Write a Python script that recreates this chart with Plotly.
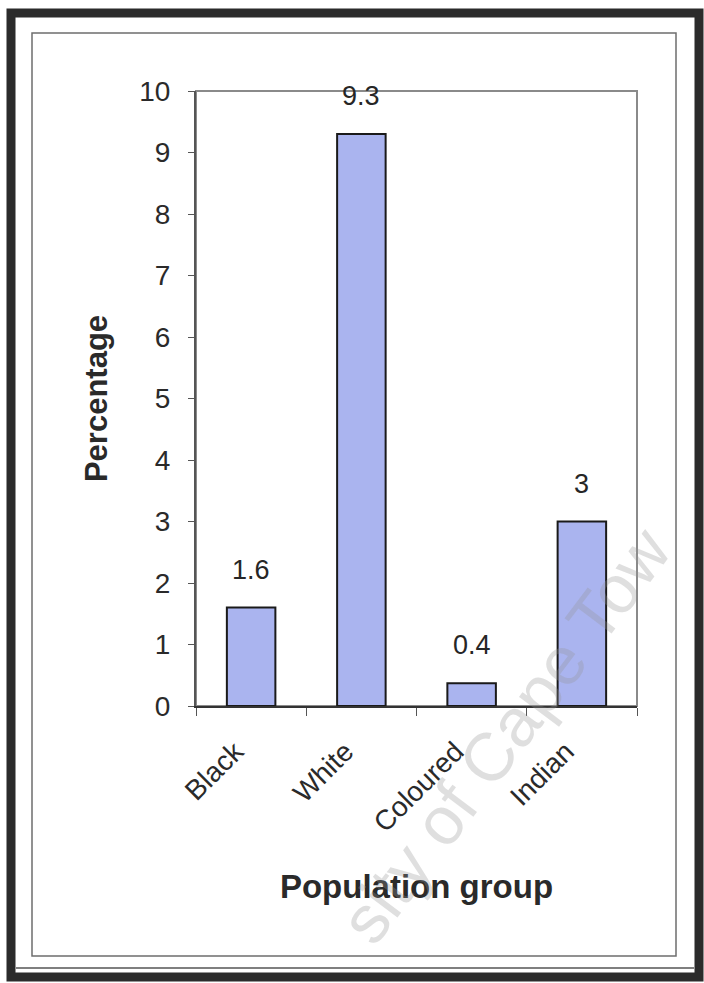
import plotly.graph_objects as go

# ---- data ----
categories = ["Black", "White", "Coloured", "Indian"]
percentages = [1.6, 9.3, 0.37, 3.0]
value_labels = ["1.6", "9.3", "0.4", "3"]
y_tick_values = list(range(0, 11))
x_title = "Population group"
y_title = "Percentage"
watermark = "sity of Cape Tow"  # visible part of the scan watermark

W, H = 704, 983
L, R, T, B = 196, 637, 91, 706  # plot area in pixels


def px(x):
    return (x - L) / (R - L)


def py(y):
    return (B - y) / (B - T)


FONT = "Liberation Sans, Arial, sans-serif"

fig = go.Figure()
fig.add_trace(go.Bar(
    x=categories,
    y=percentages,
    marker=dict(color="#aab4ef", line=dict(color="#1a1a1a", width=2)),
    showlegend=False,
    hoverinfo="x+y",
))

annotations = []
for c, v, t in zip(categories, percentages, value_labels):
    annotations.append(dict(
        x=c, y=v, xref="x", yref="y", text=t, showarrow=False,
        yshift=38, yanchor="middle",
        font=dict(family=FONT, size=27, color="#262626"),
    ))

# watermark
annotations.append(dict(
    x=px(505), y=py(735), xref="paper", yref="paper", text=watermark,
    showarrow=False, textangle=-53, xanchor="center", yanchor="middle",
    font=dict(family=FONT, size=68, color="rgba(150,150,150,0.3)"),
))

shapes = [
    # outer thick frame
    dict(type="rect", xref="paper", yref="paper", x0=px(11), x1=px(699), y0=py(13), y1=py(977),
         line=dict(color="#2b2b2b", width=9), layer="below"),
    # thin double line at bottom
    dict(type="line", xref="paper", yref="paper", x0=px(16), x1=px(694), y0=py(968), y1=py(968),
         line=dict(color="#555555", width=1.5), layer="below"),
    # inner thin border
    dict(type="rect", xref="paper", yref="paper", x0=px(32), x1=px(676), y0=py(33), y1=py(956),
         line=dict(color="#6e6e6e", width=1.5), layer="below"),
    # plot area frame
    dict(type="rect", xref="paper", yref="paper", x0=0, x1=1, y0=0, y1=1,
         line=dict(color="#8a8a8a", width=2), layer="below"),
]

fig.update_layout(
    width=W, height=H,
    margin=dict(l=L, r=W - R, t=T, b=H - B, autoexpand=False),
    paper_bgcolor="white",
    plot_bgcolor="white",
    bargap=0.56,
    font=dict(family=FONT, color="#262626"),
    annotations=annotations,
    shapes=shapes,
    xaxis=dict(
        showline=True, linecolor="#333333", linewidth=2,
        ticks="outside", tickson="boundaries", ticklen=8, tickcolor="#555555",
        tickangle=-45, tickfont=dict(family=FONT, size=28, color="#2a2a2a"),
        ticklabelstandoff=16, ticklabelshift=-16,
        showgrid=False, automargin=False,
        title=dict(text=x_title, font=dict(family=FONT, size=33, color="#2a2a2a", weight="bold"),
                   standoff=38),
    ),
    yaxis=dict(
        range=[0, 10], tickvals=y_tick_values,
        showline=True, linecolor="#555555", linewidth=2,
        ticks="outside", ticklen=6, tickcolor="#555555",
        tickfont=dict(family=FONT, size=28, color="#2a2a2a"),
        ticklabelstandoff=12,
        showgrid=False, zeroline=False, automargin=False,
        title=dict(text=y_title, font=dict(family=FONT, size=31, color="#2a2a2a", weight="bold"),
                   standoff=22),
    ),
)

fig.write_html("out.html")
